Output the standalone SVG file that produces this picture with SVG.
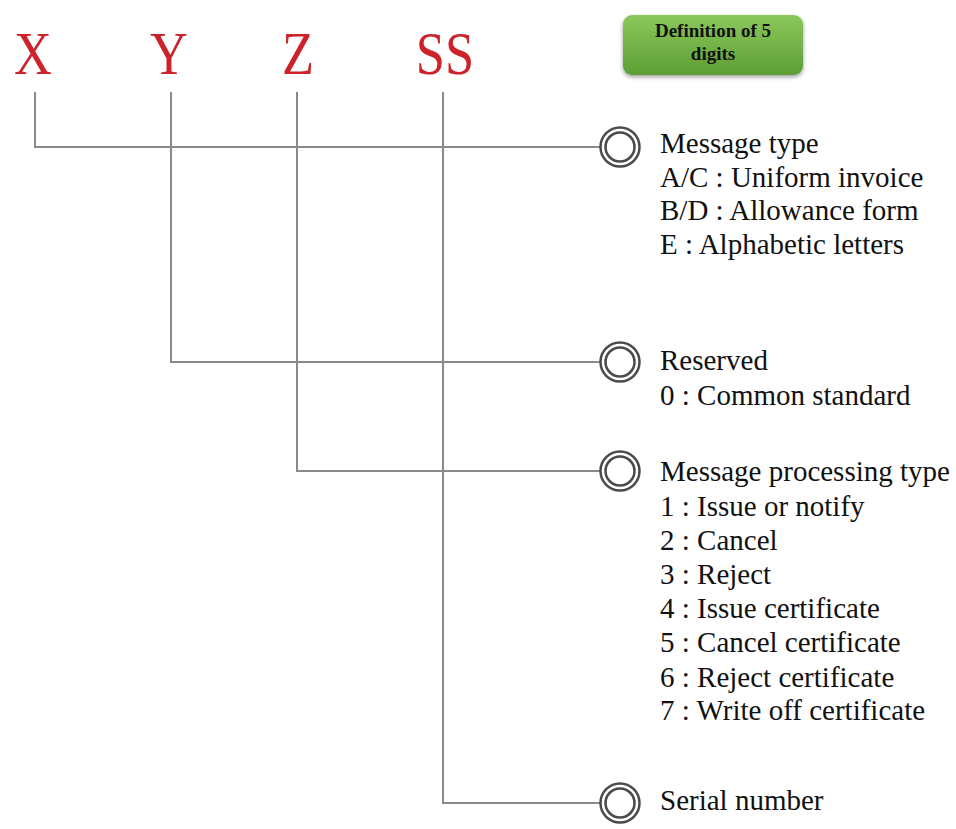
<svg xmlns="http://www.w3.org/2000/svg" width="956" height="829" viewBox="0 0 956 829">
<defs>
<linearGradient id="g" x1="0" y1="0" x2="0" y2="1">
<stop offset="0" stop-color="#8cc85c"/>
<stop offset="1" stop-color="#5c9e34"/>
</linearGradient>
<filter id="sh" x="-10%" y="-20%" width="120%" height="150%">
<feGaussianBlur in="SourceAlpha" stdDeviation="2"/>
<feOffset dx="0" dy="2" result="b"/>
<feComponentTransfer><feFuncA type="linear" slope="0.4"/></feComponentTransfer>
<feMerge><feMergeNode/><feMergeNode in="SourceGraphic"/></feMerge>
</filter>
</defs>
<style>
.big{font-family:"Liberation Serif","Times New Roman",serif;font-size:61px;fill:#cc2229;text-anchor:middle}
.t{font-family:"Liberation Serif","Times New Roman",serif;font-size:29px;fill:#111}
.hd{font-family:"Liberation Serif","Times New Roman",serif;font-size:19px;font-weight:bold;fill:#111;text-anchor:middle}
.ln{fill:none;stroke:#8a8a8a;stroke-width:2}
.ring{fill:#fff;stroke:#4a4a4a;stroke-width:2.5}
</style>
<rect width="956" height="829" fill="#fff"/>
<g id="digits">
<text class="big" transform="translate(33,74) scale(0.86,1)">X</text>
<text class="big" transform="translate(169,74) scale(0.86,1)">Y</text>
<text class="big" transform="translate(298,74) scale(0.86,1)">Z</text>
<text class="big" transform="translate(445,74) scale(0.86,1)">SS</text>
</g>
<g id="title">
<rect x="623" y="15" width="180" height="60" rx="9" fill="url(#g)" filter="url(#sh)"/>
<text class="hd" x="713" y="37">Definition of 5</text>
<text class="hd" x="713" y="60">digits</text>
</g>
<g id="connectors">
<polyline class="ln" points="35,92 35,147 600,147"/>
<polyline class="ln" points="171,92 171,362 600,362"/>
<polyline class="ln" points="297,92 297,471 600,471"/>
<polyline class="ln" points="443,92 443,803 600,803"/>
</g>
<g id="node-message-type">
<circle class="ring" cx="620" cy="147" r="19.5"/>
<circle class="ring" cx="620" cy="147" r="14.5"/>
<text class="t" x="660" y="153">Message type</text>
<text class="t" x="660" y="187">A/C : Uniform invoice</text>
<text class="t" x="660" y="220">B/D : Allowance form</text>
<text class="t" x="660" y="254">E : Alphabetic letters</text>
</g>
<g id="node-reserved">
<circle class="ring" cx="620" cy="362" r="19.5"/>
<circle class="ring" cx="620" cy="362" r="14.5"/>
<text class="t" x="660" y="370">Reserved</text>
<text class="t" x="660" y="405">0 : Common standard</text>
</g>
<g id="node-processing">
<circle class="ring" cx="620" cy="471" r="19.5"/>
<circle class="ring" cx="620" cy="471" r="14.5"/>
<text class="t" x="660" y="481">Message processing type</text>
<text class="t" x="660" y="516">1 : Issue or notify</text>
<text class="t" x="660" y="550">2 : Cancel</text>
<text class="t" x="660" y="584">3 : Reject</text>
<text class="t" x="660" y="618">4 : Issue certificate</text>
<text class="t" x="660" y="652">5 : Cancel certificate</text>
<text class="t" x="660" y="687">6 : Reject certificate</text>
<text class="t" x="660" y="720">7 : Write off certificate</text>
</g>
<g id="node-serial">
<circle class="ring" cx="620" cy="803" r="19.5"/>
<circle class="ring" cx="620" cy="803" r="14.5"/>
<text class="t" x="660" y="810">Serial number</text>
</g>
</svg>
